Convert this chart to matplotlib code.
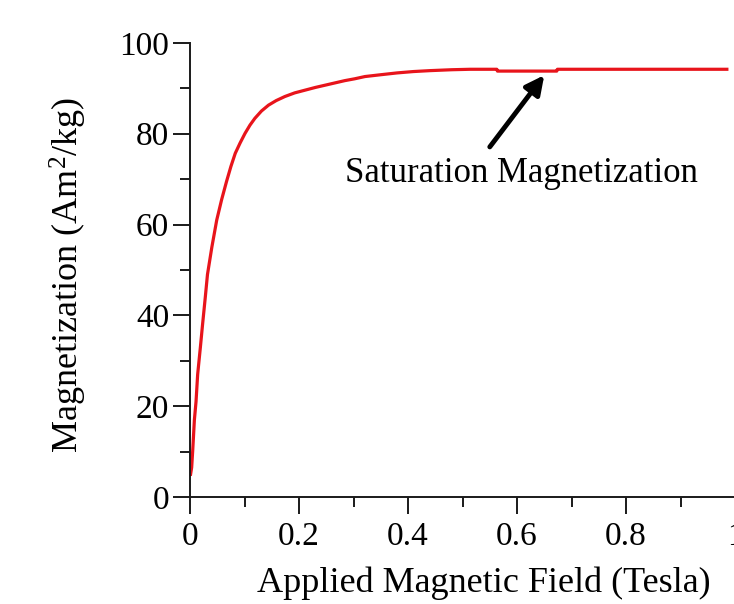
import matplotlib
matplotlib.use('Agg')
import matplotlib.pyplot as plt
from matplotlib.ticker import MultipleLocator

plt.rcParams['font.family'] = ['Liberation Serif', 'DejaVu Serif']
plt.rcParams['mathtext.fontset'] = 'custom'
plt.rcParams['mathtext.rm'] = 'Liberation Serif'

# applied field (Tesla) vs magnetization (Am2/kg)
field = [0.001, 0.003, 0.005, 0.008, 0.011, 0.014, 0.019, 0.023, 0.028, 0.032,
         0.040, 0.049, 0.058, 0.067, 0.075, 0.083, 0.092, 0.101, 0.110, 0.119,
         0.131, 0.144, 0.158, 0.174, 0.192, 0.211, 0.230, 0.248, 0.266, 0.284,
         0.302, 0.321, 0.350, 0.380, 0.410, 0.440, 0.480, 0.514, 0.563, 0.564,
         0.673, 0.674, 0.985]
magnetization = [5.0, 6.5, 10.4, 17.0, 21.0, 27.0, 33.0, 38.0, 44.0, 49.0,
                 55.0, 61.0, 65.5, 69.5, 72.8, 75.7, 78.0, 80.1, 81.9, 83.4,
                 85.0, 86.3, 87.3, 88.2, 89.0, 89.6, 90.2, 90.7, 91.2, 91.7,
                 92.1, 92.6, 93.0, 93.4, 93.7, 93.9, 94.1, 94.2, 94.2, 93.8,
                 93.8, 94.2, 94.2]

x_ticks = [0, 0.2, 0.4, 0.6, 0.8, 1]
x_tick_labels = ['0', '0.2', '0.4', '0.6', '0.8', '1']
y_ticks = [0, 20, 40, 60, 80, 100]

fig = plt.figure(figsize=(7.34, 6.04), dpi=100)
ax = fig.add_axes([0.2589, 0.1772, 0.7425, 0.7517])

ax.plot(field, magnetization, color='#e8141b', linewidth=2.3,
        solid_joinstyle='round')

ax.set_xlim(0, 1)
ax.set_ylim(0, 100)
ax.set_xticks(x_ticks)
ax.set_xticklabels(x_tick_labels)
ax.set_yticks(y_ticks)
ax.xaxis.set_minor_locator(MultipleLocator(0.1))
ax.yaxis.set_minor_locator(MultipleLocator(10))

for side in ['top', 'right']:
    ax.spines[side].set_visible(False)
for side in ['left', 'bottom']:
    ax.spines[side].set_linewidth(1.4)
    ax.spines[side].set_color('#1a1a1a')
ax.spines['bottom'].set_clip_on(False)

ax.tick_params(axis='both', which='major', direction='out', length=12, width=1.4,
               color='#1a1a1a', labelsize=24)
ax.tick_params(axis='both', which='minor', direction='out', length=7, width=1.4,
               color='#1a1a1a')
ax.tick_params(axis='x', which='major', pad=6)
ax.tick_params(axis='y', which='major', pad=3)
for lbl in ax.get_xticklabels():
    lbl.set_clip_on(False)

ax.set_xlabel('Applied Magnetic Field (Tesla)', fontsize=26)
ax.set_ylabel(r'Magnetization (Am$\mathregular{^2}$/kg)', fontsize=26)
ax.xaxis.set_label_coords(0.539, -0.153)
ax.yaxis.set_label_coords(-0.185, 0.489)

# arrow pointing at the plateau
ax.annotate('', xy=(0.650, 92.9), xytext=(0.550, 77.1),
            arrowprops=dict(arrowstyle='-|>', color='black', lw=3.5,
                            mutation_scale=28, shrinkA=0, shrinkB=0))
ax.text(0.609, 69.4, 'Saturation Magnetization', fontsize=25,
        ha='center', va='baseline')

fig.savefig('out.png', dpi=100)
